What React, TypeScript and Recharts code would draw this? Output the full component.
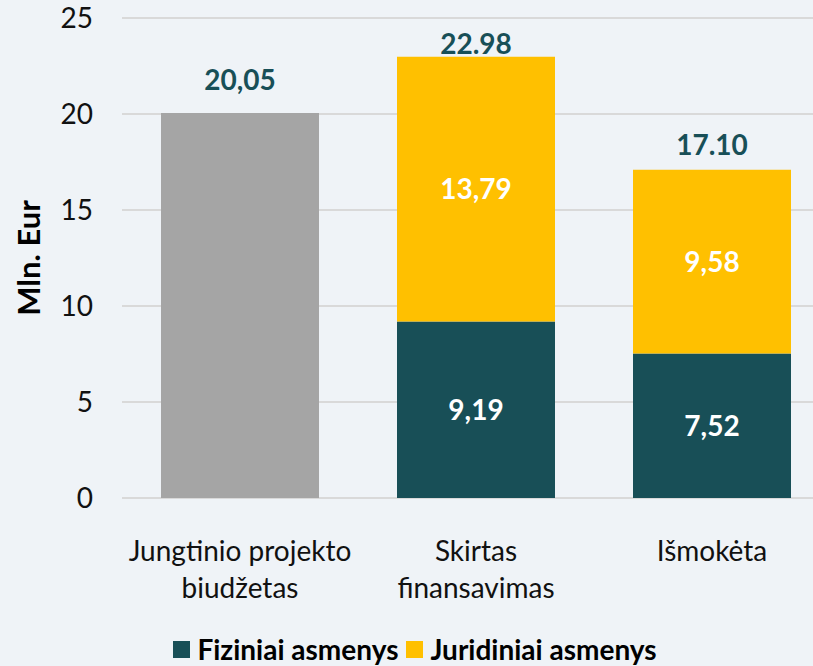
import { BarChart, Bar, XAxis, YAxis, CartesianGrid, Legend, LabelList } from 'recharts'

const categories = ['Jungtinio projekto\nbiudžetas', 'Skirtas\nfinansavimas', 'Išmokėta']
const biudzetas = [20.05, null, null]
const fiziniai = [null, 9.19, 7.52]
const juridiniai = [null, 13.79, 9.58]
const totalLabels = ['20,05', '22.98', '17.10']
const yTicks = [0, 5, 10, 15, 20, 25]
const minorTicks = [0, 1, 2, 3, 4, 5, 6, 7, 8, 9, 10, 11, 12, 13, 14, 15, 16, 17, 18, 19, 20, 21, 22, 23, 24, 25]

const data = categories.map((name, i) => ({
  name,
  biudzetas: biudzetas[i],
  fiziniai: fiziniai[i],
  juridiniai: juridiniai[i],
  total: totalLabels[i],
}))

const FONT = 'Lato, "Open Sans", sans-serif'
const TEAL = '#184f57'
const YELLOW = '#ffc000'
const GREY = '#a5a5a5'
// distance from bar top to the total label baseline, as placed in the original
const TOTAL_GAP = [23, 3, 15]

const fmt = (v: unknown) => (v == null ? '' : Number(v).toFixed(2).replace('.', ','))

const CategoryTick = ({ x, y, payload }: any) => {
  const lines = String(payload.value).split('\n')
  return (
    <text x={x} y={y} textAnchor="middle" fontFamily={FONT} fontSize={28} fill="#111">
      {lines.map((line, i) => (
        <tspan key={i} x={x} dy={i === 0 ? 55 : 37}>
          {line}
        </tspan>
      ))}
    </text>
  )
}

const AxisTitle = ({ viewBox }: any) => {
  const cy = viewBox.y + viewBox.height / 2
  const cx = 40
  return (
    <text
      x={cx}
      y={cy}
      transform={`rotate(-90 ${cx} ${cy})`}
      textAnchor="middle"
      fontFamily={FONT}
      fontSize={31}
      fontWeight="bold"
      fill="#000"
    >
      Mln. Eur
    </text>
  )
}

const TotalLabel = (props: any) => {
  const { x, y, width, value } = props
  if (value == null || value === '') return null
  const idx = totalLabels.indexOf(String(value))
  return (
    <text
      x={x + width / 2}
      y={y - TOTAL_GAP[idx]}
      textAnchor="middle"
      fontFamily={FONT}
      fontSize={28}
      fontWeight="bold"
      fill={TEAL}
    >
      {value}
    </text>
  )
}

const LegendContent = ({ payload }: any) => (
  <div
    style={{
      display: 'flex',
      justifyContent: 'center',
      alignItems: 'center',
      height: 40,
      transform: 'translateY(3px)',
      fontFamily: FONT,
      fontSize: 28,
      fontWeight: 'bold',
      color: '#000',
    }}
  >
    {(payload || [])
      .filter((p: any) => p.type !== 'none' && p.dataKey !== 'biudzetas')
      .map((p: any) => (
        <span key={p.value} style={{ display: 'flex', alignItems: 'center', margin: '0 4px' }}>
          <span style={{ width: 17, height: 17, background: p.color, marginRight: 7, display: 'inline-block' }} />
          {p.value}
        </span>
      ))}
  </div>
)

export default function App() {
  return (
    <div
      style={{
        position: 'absolute',
        left: 0,
        top: 0,
        width: 813,
        height: 666,
        overflow: 'hidden',
        background: '#eff3f7',
      }}
    >
      <BarChart width={830} height={666} data={data} margin={{ top: 18, right: 0, bottom: 0, left: 0 }} barSize={158}>
        <CartesianGrid yAxisId="minor" vertical={false} stroke="#e9edf1" strokeWidth={1} />
        <CartesianGrid yAxisId="main" vertical={false} stroke="#d9d9d9" strokeWidth={2} />
        <XAxis
          dataKey="name"
          axisLine={false}
          tickLine={false}
          interval={0}
          height={128}
          tick={<CategoryTick />}
        />
        <YAxis yAxisId="minor" hide domain={[0, 25]} ticks={minorTicks} />
        <YAxis
          yAxisId="main"
          width={122}
          domain={[0, 25]}
          ticks={yTicks}
          axisLine={false}
          tickLine={false}
          tickSize={0}
          tickMargin={29}
          tick={{ fontFamily: FONT, fontSize: 28, fill: '#111' }}
          label={<AxisTitle />}
        />
        <Legend verticalAlign="bottom" content={<LegendContent />} />
        <Bar yAxisId="main" dataKey="biudzetas" stackId="a" fill={GREY} legendType="none" isAnimationActive={false}>
          <LabelList dataKey="total" content={<TotalLabel />} />
        </Bar>
        <Bar yAxisId="main" dataKey="fiziniai" name="Fiziniai asmenys" stackId="a" fill={TEAL} isAnimationActive={false}>
          <LabelList
            dataKey="fiziniai"
            position="center"
            formatter={fmt}
            style={{ fontFamily: FONT, fontSize: 28, fontWeight: 'bold', fill: '#fff' }}
          />
        </Bar>
        <Bar yAxisId="main" dataKey="juridiniai" name="Juridiniai asmenys" stackId="a" fill={YELLOW} isAnimationActive={false}>
          <LabelList
            dataKey="juridiniai"
            position="center"
            formatter={fmt}
            style={{ fontFamily: FONT, fontSize: 28, fontWeight: 'bold', fill: '#fff' }}
          />
          <LabelList dataKey="total" content={<TotalLabel />} />
        </Bar>
      </BarChart>
    </div>
  )
}
